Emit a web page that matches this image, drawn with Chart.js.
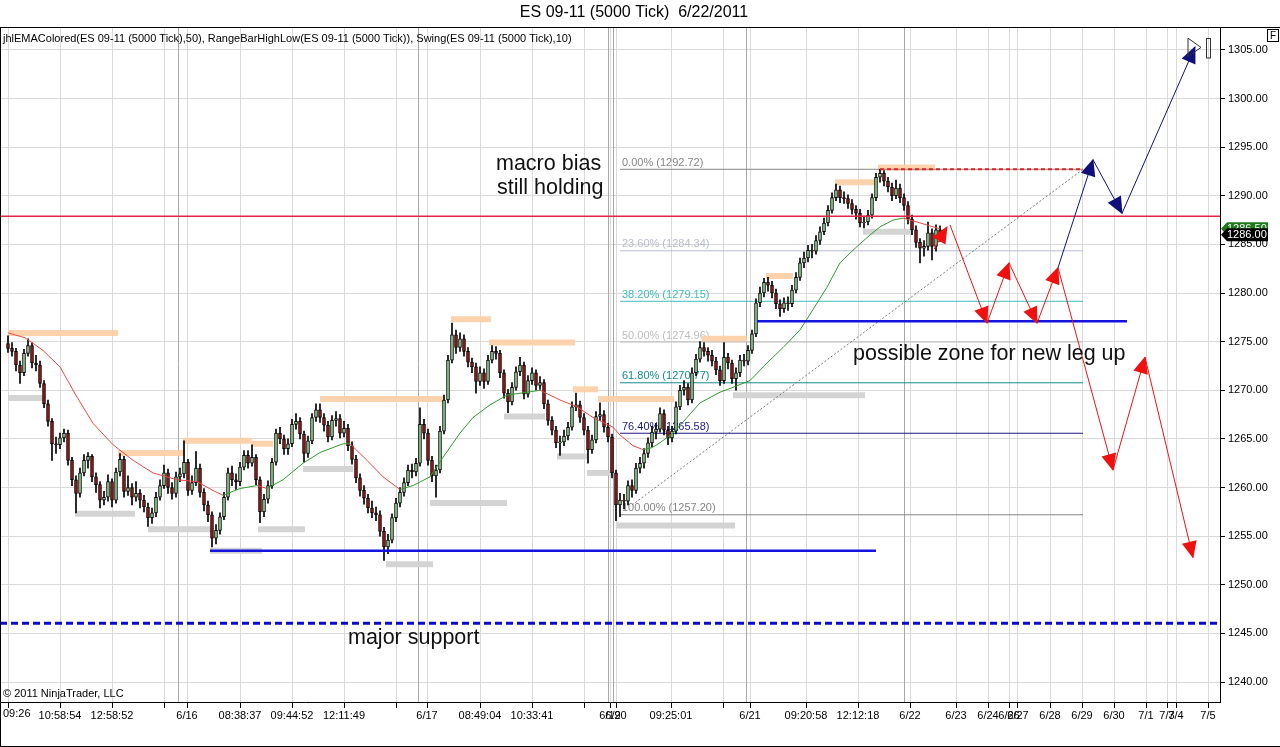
<!DOCTYPE html>
<html>
<head>
<meta charset="utf-8">
<title>ES 09-11 (5000 Tick) 6/22/2011</title>
<script src="https://cdn.jsdelivr.net/npm/chart.js"></script>
<style>
  html, body { margin: 0; padding: 0; background: #fff; }
  #wrap { width: 1280px; height: 747px; }
</style>
</head>
<body>
<div id="wrap"><canvas id="chart" width="1280" height="747"></canvas></div>
<script>
// 5000 tick bars, one slot per bar (x = bar index)
const firstOpen = 1274.8;
const closes = [
  1274.3, 1274.0, 1272.6, 1271.8, 1273.8, 1274.6, 1272.8, 1272.6, 1270.7, 1268.6,
  1266.8, 1264.5, 1264.4, 1265.1, 1265.6, 1262.8, 1260.8, 1259.4, 1261.5, 1262.8,
  1263.2, 1261.1, 1260.3, 1258.7, 1259.0, 1260.6, 1258.7, 1261.6, 1262.9, 1259.6,
  1260.0, 1259.0, 1259.4, 1258.7, 1258.0, 1256.9, 1257.4, 1259.0, 1260.2, 1261.5,
  1260.0, 1259.4, 1261.1, 1261.4, 1262.6, 1259.7, 1260.5, 1262.0, 1259.5, 1258.2,
  1257.2, 1254.8, 1255.6, 1257.0, 1259.0, 1261.5, 1260.8, 1260.6, 1262.1, 1263.3,
  1262.5, 1263.1, 1260.8, 1257.5, 1258.8, 1260.2, 1262.6, 1265.6, 1265.0, 1264.0,
  1264.5, 1266.5, 1266.8, 1265.5, 1263.5, 1264.8, 1267.2, 1268.0, 1267.2, 1266.4,
  1265.2, 1266.9, 1267.1, 1265.6, 1266.1, 1264.3, 1262.9, 1261.0, 1259.7, 1258.9,
  1257.9, 1257.4, 1257.2, 1255.5, 1253.9, 1254.6, 1256.9, 1258.4, 1259.5, 1260.5,
  1261.8, 1261.6, 1262.5, 1266.5, 1265.6, 1262.8, 1261.2, 1261.8, 1265.8, 1269.0,
  1273.1, 1275.7, 1274.4, 1275.3, 1274.0, 1272.9, 1272.4, 1270.9, 1271.8, 1270.9,
  1273.1, 1274.0, 1273.8, 1271.8, 1269.7, 1268.8, 1270.3, 1271.9, 1272.6, 1269.6,
  1271.0, 1271.8, 1270.5, 1270.8, 1268.6, 1266.9, 1265.9, 1264.6, 1264.7, 1265.3,
  1266.2, 1268.3, 1268.5, 1267.2, 1265.9, 1263.9, 1264.9, 1267.3, 1267.5, 1266.2,
  1265.2, 1261.5, 1258.2, 1258.7, 1258.6, 1260.2, 1259.7, 1262.0, 1262.5, 1263.5,
  1264.6, 1265.7, 1266.0, 1267.6, 1265.9, 1265.1, 1265.8, 1268.3, 1270.0, 1270.3,
  1269.0, 1271.8, 1273.2, 1274.4, 1274.0, 1273.6, 1273.0, 1272.1, 1271.0, 1273.4,
  1272.8, 1271.2, 1271.8, 1273.1, 1273.0, 1274.1, 1275.8, 1279.0, 1280.0, 1281.1,
  1280.8, 1280.0, 1278.9, 1278.4, 1279.0, 1278.9, 1280.3, 1281.6, 1283.1, 1283.6,
  1284.4, 1284.3, 1285.4, 1286.3, 1287.2, 1288.5, 1289.8, 1290.6, 1289.8, 1289.7,
  1289.2, 1288.6, 1288.2, 1287.2, 1287.3, 1288.0, 1289.8, 1291.9, 1292.3, 1291.5,
  1290.9, 1290.0, 1290.8, 1289.8, 1289.0, 1287.6, 1286.5, 1285.2, 1284.6, 1284.8,
  1286.2, 1284.8, 1286.5, 1286.0
];
const highs = [
  1275.6, 1274.9, 1274.3, 1273.0, 1274.2, 1275.3, 1274.9, 1273.6, 1273.0, 1271.0,
  1269.0, 1267.1, 1265.2, 1265.6, 1266.0, 1265.9, 1263.1, 1261.2, 1262.0, 1263.4,
  1263.6, 1263.4, 1261.5, 1260.6, 1259.6, 1261.3, 1260.9, 1262.0, 1263.5, 1263.2,
  1261.2, 1260.4, 1260.6, 1259.8, 1259.2, 1258.4, 1257.9, 1259.5, 1260.8, 1262.3,
  1261.9, 1260.5, 1261.6, 1262.0, 1264.8, 1262.9, 1261.2, 1263.7, 1262.4, 1259.9,
  1258.6, 1257.5, 1256.2, 1257.4, 1259.5, 1262.0, 1262.2, 1261.4, 1262.6, 1263.8,
  1263.8, 1264.4, 1263.4, 1261.1, 1259.3, 1260.7, 1263.0, 1266.0, 1266.2, 1265.4,
  1265.0, 1267.0, 1267.6, 1267.2, 1265.8, 1265.3, 1267.6, 1268.6, 1268.6, 1267.6,
  1266.8, 1267.4, 1267.8, 1267.5, 1266.8, 1266.5, 1264.7, 1263.3, 1261.4, 1260.2,
  1259.3, 1258.6, 1258.0, 1257.6, 1255.9, 1255.2, 1257.3, 1258.9, 1260.0, 1261.0,
  1262.3, 1262.4, 1263.0, 1268.2, 1267.0, 1266.0, 1263.2, 1262.3, 1266.3, 1269.5,
  1273.6, 1276.9, 1276.2, 1275.9, 1275.7, 1274.4, 1273.3, 1272.8, 1272.4, 1272.2,
  1273.6, 1274.6, 1274.5, 1274.1, 1272.1, 1270.1, 1270.8, 1272.4, 1273.4, 1272.9,
  1271.5, 1272.3, 1272.1, 1271.4, 1271.1, 1269.0, 1267.3, 1266.3, 1265.3, 1265.9,
  1266.7, 1268.8, 1269.7, 1268.9, 1267.6, 1266.3, 1265.4, 1267.8, 1268.7, 1267.9,
  1266.6, 1265.5, 1261.8, 1259.4, 1259.3, 1260.7, 1260.8, 1262.5, 1263.1, 1264.0,
  1265.1, 1266.3, 1266.6, 1268.2, 1268.0, 1266.3, 1266.3, 1268.8, 1270.5, 1271.0,
  1270.7, 1272.3, 1273.7, 1275.0, 1274.9, 1274.4, 1274.1, 1273.4, 1272.5, 1274.9,
  1273.8, 1273.1, 1272.3, 1273.6, 1273.7, 1274.6, 1276.2, 1279.4, 1280.6, 1281.5,
  1281.6, 1281.2, 1280.4, 1279.3, 1279.5, 1279.6, 1280.8, 1282.1, 1283.6, 1284.2,
  1284.9, 1285.0, 1285.9, 1286.8, 1287.7, 1289.0, 1290.3, 1291.2, 1291.0, 1290.4,
  1290.1, 1289.6, 1289.0, 1288.6, 1287.9, 1288.5, 1290.2, 1292.3, 1292.72, 1292.6,
  1291.9, 1291.3, 1291.6, 1291.2, 1290.2, 1289.4, 1288.0, 1286.9, 1285.6, 1285.4,
  1287.3, 1286.6, 1287.0, 1286.9
];
const lows = [
  1273.9, 1273.5, 1272.0, 1270.7, 1271.5, 1273.5, 1272.3, 1272.0, 1270.3, 1268.2,
  1266.3, 1262.8, 1263.5, 1264.0, 1264.7, 1262.3, 1260.2, 1257.4, 1259.0, 1261.2,
  1262.0, 1260.6, 1259.5, 1257.9, 1258.2, 1258.6, 1258.0, 1258.4, 1261.2, 1259.0,
  1259.2, 1258.2, 1258.6, 1257.9, 1257.5, 1256.0, 1256.3, 1257.0, 1258.7, 1259.9,
  1259.4, 1258.8, 1259.0, 1260.6, 1261.0, 1259.2, 1259.3, 1260.2, 1259.0, 1257.6,
  1256.5, 1253.9, 1254.2, 1255.2, 1256.7, 1258.7, 1260.2, 1259.8, 1260.2, 1261.8,
  1262.0, 1262.2, 1260.3, 1256.4, 1257.0, 1258.4, 1259.9, 1262.3, 1264.5, 1263.4,
  1263.4, 1264.2, 1266.0, 1265.0, 1262.6, 1263.1, 1264.5, 1266.8, 1266.7, 1265.8,
  1264.7, 1264.9, 1266.3, 1265.1, 1265.2, 1263.8, 1262.4, 1260.5, 1259.1, 1258.3,
  1257.4, 1256.9, 1256.6, 1255.0, 1252.5, 1253.2, 1254.3, 1256.5, 1258.0, 1259.1,
  1260.2, 1261.0, 1261.2, 1262.2, 1265.0, 1262.3, 1260.6, 1259.0, 1261.5, 1265.5,
  1268.7, 1272.8, 1273.8, 1274.0, 1273.5, 1272.4, 1271.8, 1269.7, 1270.5, 1270.2,
  1270.6, 1272.8, 1273.2, 1271.3, 1269.2, 1267.7, 1268.5, 1270.0, 1271.5, 1269.1,
  1269.3, 1270.6, 1270.0, 1270.1, 1268.1, 1266.4, 1265.4, 1264.1, 1263.3, 1264.3,
  1264.9, 1265.9, 1267.9, 1266.7, 1265.4, 1262.5, 1263.5, 1264.6, 1266.9, 1265.7,
  1264.7, 1261.0, 1256.6, 1257.0, 1257.8, 1258.2, 1259.0, 1259.4, 1261.5, 1262.0,
  1263.1, 1264.2, 1265.0, 1265.7, 1265.4, 1264.4, 1264.7, 1265.5, 1268.0, 1269.5,
  1268.5, 1268.7, 1271.5, 1272.9, 1273.5, 1273.0, 1272.5, 1271.6, 1270.5, 1270.7,
  1272.2, 1270.7, 1270.0, 1271.4, 1272.5, 1272.6, 1273.8, 1275.5, 1278.6, 1279.6,
  1280.2, 1279.5, 1278.4, 1277.6, 1278.0, 1278.2, 1278.6, 1280.0, 1281.3, 1282.6,
  1283.2, 1283.6, 1284.0, 1285.0, 1286.0, 1286.9, 1288.2, 1289.5, 1289.3, 1289.2,
  1288.7, 1288.1, 1287.6, 1286.8, 1286.7, 1287.0, 1287.7, 1289.5, 1291.4, 1291.0,
  1290.4, 1289.5, 1289.7, 1289.3, 1288.5, 1287.1, 1286.0, 1284.7, 1283.1, 1283.8,
  1284.4, 1283.4, 1284.3, 1285.3
];

// jhlEMAColored(50)
const emaIdx = [0, 4.25, 8.75, 13, 17.25, 21.25, 26.25, 31.25, 36.25, 42.25, 47.25, 51.25, 53.75, 58,
  62.25, 64.75, 68.75, 73.75, 78, 83.75, 85.5, 89.75, 93.75, 98, 101.25, 105.5, 108.75, 113, 116.25,
  120.5, 124.75, 129.75, 133, 138, 142.25, 146.25, 151.25, 153, 156.25, 158.75, 161, 163, 166.25,
  169.75, 173, 178, 181.25, 185.5, 189.75, 193.75, 198, 201.25, 204.75, 208, 211.25, 214.75, 218,
  221.25, 223.75, 227.25, 231.25, 233];
const emaVal = [1275.9, 1275.4, 1274.1, 1272.4, 1269.3, 1266.6, 1264.4, 1262.8, 1261.5, 1260.8,
  1260.6, 1259.7, 1259.2, 1259.9, 1260.2, 1259.9, 1260.8, 1262.5, 1263.6, 1264.5, 1264.5, 1262.8,
  1261.1, 1259.8, 1260.2, 1261.1, 1263.1, 1265.6, 1267.2, 1268.5, 1269.5, 1269.8, 1270.0, 1269.0,
  1268.3, 1267.2, 1266.2, 1265.4, 1264.3, 1263.9, 1264.1, 1264.6, 1265.6, 1267.2, 1268.7, 1269.8,
  1270.3, 1271.0, 1272.8, 1274.4, 1276.2, 1278.3, 1280.6, 1283.1, 1284.4, 1285.7, 1286.8, 1287.5,
  1287.7, 1287.3, 1286.8, 1286.6];

// RangeBarHighLow / Swing marks: [from bar, to bar, price]
const swingHighs = [
  [0, 27.5, 1275.9], [27.5, 44.25, 1263.55], [43.75, 61, 1264.8], [61, 66.25, 1264.5],
  [78, 108.75, 1269.1], [110.75, 120.75, 1277.3], [120.25, 141.75, 1274.9], [141.25, 147.5, 1270.1],
  [147.5, 166.5, 1269.1], [173.5, 184.75, 1275.3], [189.5, 196.25, 1281.75], [206.75, 217.25, 1291.4],
  [217.5, 231.75, 1292.9]
];
const swingLows = [
  [0, 8.75, 1269.2], [16.75, 31.75, 1257.3], [35, 51.25, 1255.7], [50.5, 63.5, 1253.5],
  [62.5, 74.25, 1255.7], [73.75, 86.25, 1261.9], [94.5, 106.25, 1252.1], [105.5, 124.75, 1258.4],
  [124, 134.25, 1267.3], [137.25, 145, 1263.2], [144.75, 151, 1261.5], [152.25, 181.75, 1256.1],
  [181.25, 214.25, 1269.5], [213.75, 226, 1286.3]
];

// Fibonacci retracement
const fibPct = ['0.00%', '23.60%', '38.20%', '50.00%', '61.80%', '76.40%', '100.00%'];
const fibLevels = [1292.72, 1284.34, 1279.15, 1274.96, 1270.77, 1265.58, 1257.20];
const fibSpan = [153, 268.75];
const trendX = [156, 268.75];
const trendY = [1258.2, 1292.72];

// hand drawn levels
const biasLevel = 1287.9;
const supportLevel = 1246.05;
const lowLine = [50.5, 217, 1253.5];
const zoneLine = [187.25, 279.75, 1277.1];
const topLine = [218, 268.75, 1292.72];

// hand drawn scenario paths
const hookX = [231.5, 234.75];
const hookY = [1284.5, 1286.8];
const bearX = [235.5, 244.75, 250.25, 257.25, 262.5, 276.25, 284.25, 296.25];
const bearY = [1287.0, 1276.9, 1283.1, 1276.9, 1282.6, 1261.8, 1273.4, 1252.8];
const bullX = [262.5, 271.25, 278.5, 296.75];
const bullY = [1282.6, 1293.7, 1288.2, 1305.3];

const notes = ['macro bias', 'still holding', 'possible zone for new leg up', 'major support'];
const noteX = [122, 122.25, 211.25, 85];
const noteY = [1293.3, 1290.8, 1273.7, 1244.5];

const sessionBreaks = [42.5, 102.5, 150, 151.25, 184.5, 224];
const xTickPos = [0, 13, 26, 39, 44.75, 58, 71, 84, 97, 104.75, 118, 131, 144, 150.5, 152, 165.75,
  178.75, 185.5, 199.5, 212.5, 225.5, 237, 245, 250.25, 252.5, 260.5, 268.5, 276.5, 284.5, 289.75, 292, 300];
const xTickLabels = ['', '10:58:54', '12:58:52', '', '6/16', '08:38:37', '09:44:52', '12:11:49', '',
  '6/17', '08:49:04', '10:33:41', '', '6/19', '6/20', '09:25:01', '', '6/21', '09:20:58', '12:12:18',
  '6/22', '6/23', '6/24', '6/26', '6/27', '6/28', '6/29', '6/30', '7/1', '7/3', '7/4', '7/5'];
const lastPrice = 1286.00;
const askPrice = 1286.50;

const upColor = '#92d392';
const downColor = '#a81414';
const fibColors = ['#858585', '#b4bccf', '#3cbcbc', '#bdbdbd', '#148c8c', '#1a1a80', '#858585'];

const opens = closes.map((c, i) => i === 0 ? firstOpen : closes[i - 1]);

function hline(x0, x1, v, color, width, dash, order) {
  return {
    type: 'line',
    data: [{x: x0, y: v}, {x: x1, y: v}],
    borderColor: color, borderWidth: width, borderDash: dash || [],
    borderCapStyle: 'butt', pointRadius: 0, order: order
  };
}
function path(xs, ys, color, order) {
  return {
    type: 'line', arrows: true,
    data: xs.map((x, i) => ({x: x, y: ys[i]})),
    borderColor: color, borderWidth: 1, pointRadius: 0, order: order
  };
}

const datasets = [];
swingHighs.forEach(r => datasets.push(hline(r[0], r[1], r[2], 'rgba(252,206,164,0.9)', 6, null, 9)));
swingLows.forEach(r => datasets.push(hline(r[0], r[1], r[2], 'rgba(210,210,210,0.95)', 6, null, 9)));
fibLevels.forEach((v, i) => datasets.push(hline(fibSpan[0], fibSpan[1], v, fibColors[i], 1, null, 8)));
datasets.push({
  type: 'line', data: trendX.map((x, i) => ({x: x, y: trendY[i]})),
  borderColor: '#777', borderWidth: 1, borderDash: [2, 2], pointRadius: 0, order: 7
});
datasets.push({
  type: 'bar', data: closes.map((c, i) => ({x: i, y: [lows[i], highs[i]]})),
  backgroundColor: '#000', barThickness: 1, grouped: false, order: 6
});
datasets.push({
  type: 'bar', data: closes.map((c, i) => ({x: i, y: [opens[i], c]})),
  backgroundColor: closes.map((c, i) => c >= opens[i] ? upColor : downColor),
  borderColor: '#000', borderWidth: 1, borderSkipped: false,
  barThickness: 3, grouped: false, order: 5
});
datasets.push({
  type: 'line', data: emaIdx.map((x, i) => ({x: x, y: emaVal[i]})),
  borderColor: '#e84848', borderWidth: 1, pointRadius: 0, order: 4,
  segment: { borderColor: c => c.p1.parsed.y >= c.p0.parsed.y ? '#2f9a2f' : '#e84848' }
});
datasets.push(hline(-2, 303, biasLevel, '#e0284a', 1.5, null, 3));
datasets.push(hline(-2, 303, supportLevel, '#0a0ad0', 3, [7, 4], 3));
datasets.push(hline(lowLine[0], lowLine[1], lowLine[2], '#1414e0', 2.5, null, 3));
datasets.push(hline(zoneLine[0], zoneLine[1], zoneLine[2], '#1414e0', 2.5, null, 3));
datasets.push(hline(topLine[0], topLine[1], topLine[2], '#e02020', 2, [4, 3], 3));
datasets.push(path(hookX, hookY, '#f01010', 2));
datasets.push(path(bearX, bearY, '#f01010', 2));
datasets.push(path(bullX, bullY, '#10107a', 2));

function arrowHead(ctx, p0, p1, color) {
  const ang = Math.atan2(p1.y - p0.y, p1.x - p0.x);
  ctx.save();
  ctx.translate(p1.x, p1.y);
  ctx.rotate(ang);
  ctx.beginPath();
  ctx.moveTo(1, 0);
  ctx.lineTo(-16, -7.5);
  ctx.lineTo(-16, 7.5);
  ctx.closePath();
  ctx.fillStyle = color;
  ctx.fill();
  ctx.restore();
}

function priceTag(ctx, yc, text, fill) {
  ctx.beginPath();
  ctx.moveTo(1221, yc);
  ctx.lineTo(1227, yc - 6.5);
  ctx.lineTo(1268, yc - 6.5);
  ctx.lineTo(1268, yc + 6.5);
  ctx.lineTo(1227, yc + 6.5);
  ctx.closePath();
  ctx.fillStyle = fill;
  ctx.fill();
  ctx.fillStyle = '#fff';
  ctx.font = '11px Arial, "Liberation Sans"';
  ctx.textAlign = 'left';
  ctx.textBaseline = 'middle';
  ctx.fillText(text, 1227, yc + 0.5);
}

const overlay = {
  id: 'overlay',
  beforeDatasetsDraw(chart) {
    const {ctx, chartArea: a, scales: {x, y}} = chart;
    ctx.save();
    ctx.strokeStyle = '#a8a8a8';
    ctx.lineWidth = 1;
    sessionBreaks.forEach(v => {
      const px = Math.round(x.getPixelForValue(v)) + 0.5;
      ctx.beginPath(); ctx.moveTo(px, a.top); ctx.lineTo(px, a.bottom); ctx.stroke();
    });
    ctx.font = '11px Arial, "Liberation Sans"';
    ctx.textAlign = 'left';
    ctx.textBaseline = 'bottom';
    fibLevels.forEach((v, i) => {
      ctx.fillStyle = fibColors[i];
      ctx.fillText(fibPct[i] + ' (' + v.toFixed(2) + ')', x.getPixelForValue(fibSpan[0]) + 2, y.getPixelForValue(v) - 1);
    });
    ctx.restore();
  },
  afterDatasetsDraw(chart) {
    const {ctx, scales: {x, y}} = chart;
    ctx.save();
    chart.data.datasets.forEach((ds, i) => {
      if (!ds.arrows) return;
      const pts = chart.getDatasetMeta(i).data;
      for (let j = 1; j < pts.length; j++) arrowHead(ctx, pts[j - 1], pts[j], ds.borderColor);
    });
    // drawing tool end markers
    const tx0 = x.getPixelForValue(295), tx1 = x.getPixelForValue(298.25);
    const ty0 = y.getPixelForValue(1306.2), ty1 = y.getPixelForValue(1304.3);
    ctx.strokeStyle = '#333';
    ctx.lineWidth = 1;
    ctx.beginPath();
    ctx.moveTo(tx0, ty0); ctx.lineTo(tx1, (ty0 + ty1) / 2); ctx.lineTo(tx0, ty1); ctx.closePath();
    ctx.stroke();
    ctx.strokeRect(Math.round(x.getPixelForValue(299.5)) + 0.5, Math.round(ty0) + 0.5, 4, ty1 - ty0 + 1);

    ctx.fillStyle = '#111';
    ctx.font = '21.5px Arial, "Liberation Sans"';
    ctx.textAlign = 'left';
    ctx.textBaseline = 'middle';
    notes.forEach((t, i) => ctx.fillText(t, x.getPixelForValue(noteX[i]), y.getPixelForValue(noteY[i])));
    ctx.restore();
  },
  afterDraw(chart) {
    const {ctx, scales: {y}} = chart;
    ctx.save();
    ctx.fillStyle = '#000';
    ctx.font = '16px Arial, "Liberation Sans"';
    ctx.textAlign = 'center';
    ctx.textBaseline = 'middle';
    ctx.fillText('ES 09-11 (5000 Tick)  6/22/2011', 634, 13);

    ctx.font = '11px Arial, "Liberation Sans"';
    ctx.textAlign = 'left';
    ctx.fillText('jhlEMAColored(ES 09-11 (5000 Tick),50), RangeBarHighLow(ES 09-11 (5000 Tick)), Swing(ES 09-11 (5000 Tick),10)', 3, 39);
    ctx.fillText('\u00a9 2011 NinjaTrader, LLC', 3, 694);
    ctx.fillText('09:26', 3, 714);

    ctx.strokeStyle = '#000';
    ctx.lineWidth = 1;
    ctx.beginPath();
    ctx.moveTo(0, 27.5); ctx.lineTo(1280, 27.5);
    ctx.moveTo(0.5, 27); ctx.lineTo(0.5, 747);
    ctx.moveTo(0, 746.5); ctx.lineTo(1280, 746.5);
    ctx.stroke();
    ctx.strokeRect(1267.5, 29.5, 11, 12);
    ctx.font = '10px Arial, "Liberation Sans"';
    ctx.textAlign = 'center';
    ctx.fillText('F', 1273, 36);

    priceTag(ctx, y.getPixelForValue(askPrice) - 1, askPrice.toFixed(2), '#1d7a1d');
    priceTag(ctx, y.getPixelForValue(lastPrice), lastPrice.toFixed(2), '#000');
    ctx.restore();
  }
};

new Chart(document.getElementById('chart'), {
  type: 'bar',
  data: { datasets: datasets },
  options: {
    responsive: false,
    animation: false,
    devicePixelRatio: 1,
    events: [],
    layout: { padding: { top: 27, left: 0, right: 0, bottom: 0 } },
    plugins: { legend: { display: false }, tooltip: { enabled: false }, title: { display: false } },
    scales: {
      x: {
        type: 'linear', min: -2, max: 303, offset: false,
        grid: { offset: false, color: '#dadada', tickColor: '#000', tickLength: 6 },
        border: { display: true, color: '#000', width: 1 },
        afterBuildTicks: scale => { scale.ticks = xTickPos.map(v => ({value: v})); },
        afterFit: scale => { scale.height = 45; },
        ticks: {
          autoSkip: false, maxRotation: 0, minRotation: 0, padding: 1,
          color: '#000', font: { family: 'Arial, "Liberation Sans"', size: 11 },
          callback: (v, i) => xTickLabels[i]
        }
      },
      y: {
        type: 'linear', position: 'right', min: 1237.95, max: 1307.35,
        grid: { color: '#dadada', tickColor: '#000', tickLength: 5 },
        border: { display: true, color: '#000', width: 1 },
        afterFit: scale => { scale.width = 60; },
        ticks: {
          stepSize: 5, includeBounds: false, padding: 3,
          color: '#000', font: { family: 'Arial, "Liberation Sans"', size: 11 },
          callback: v => v.toFixed(2)
        }
      }
    }
  },
  plugins: [overlay]
});
</script>
</body>
</html>
